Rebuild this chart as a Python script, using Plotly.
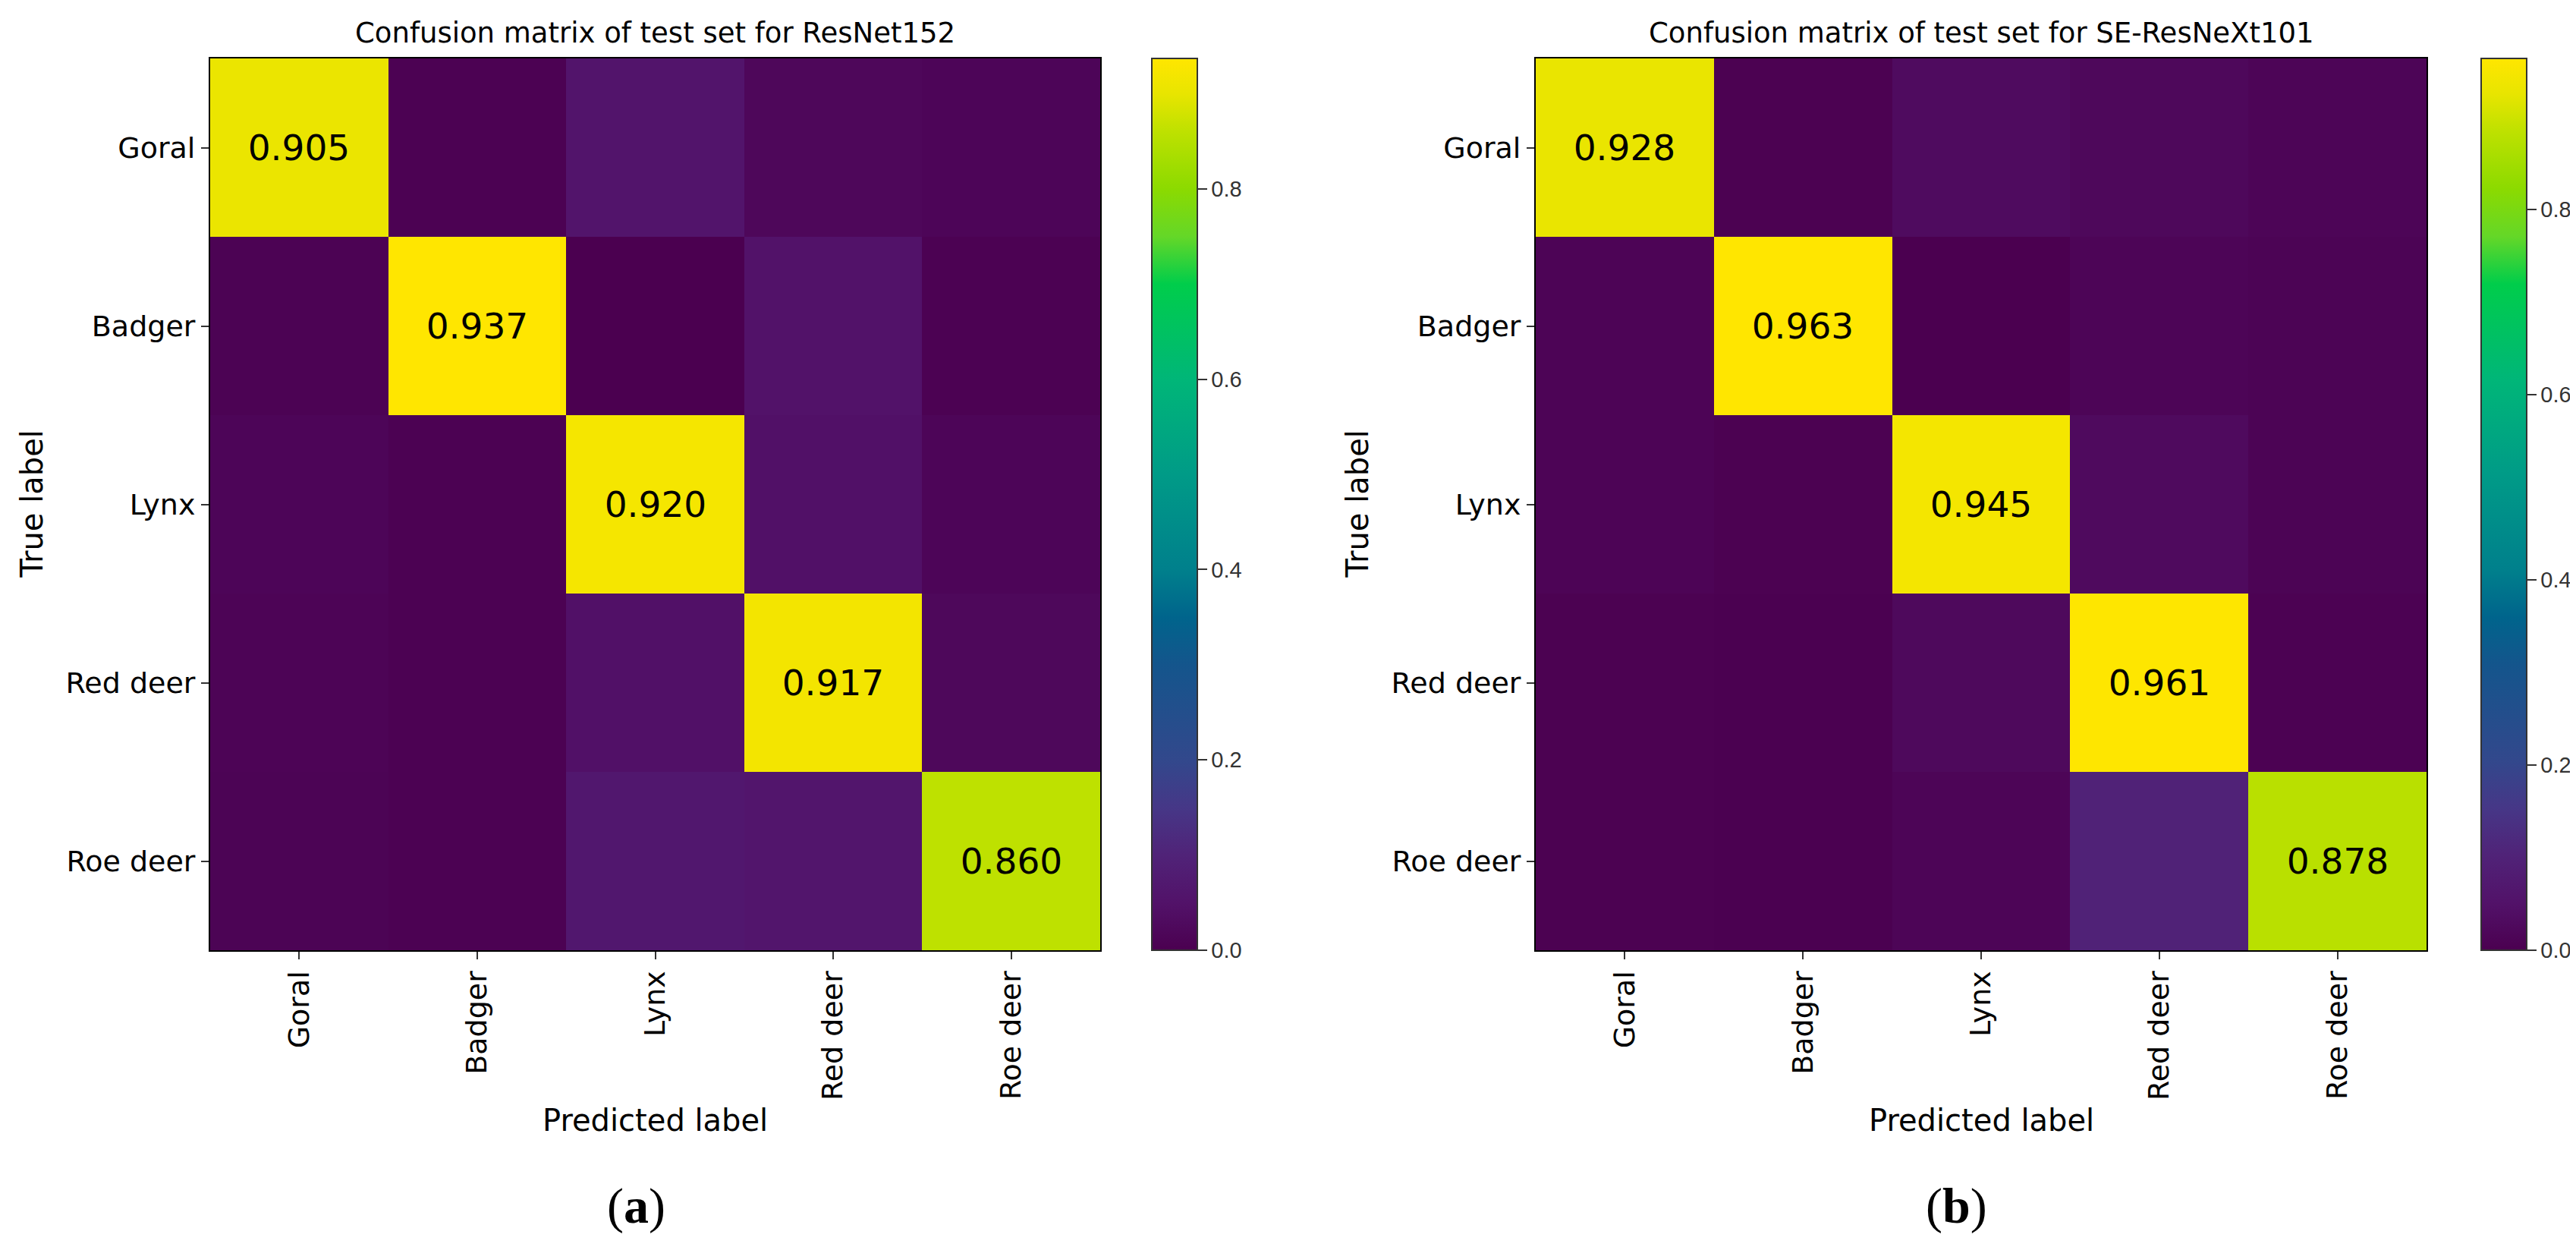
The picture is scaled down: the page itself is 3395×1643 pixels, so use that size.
import plotly.graph_objects as go

classes = ["Goral", "Badger", "Lynx", "Red deer", "Roe deer"]

# rows = true label, columns = predicted label
cm_resnet152 = [
    [0.905, 0.005, 0.055, 0.020, 0.015],
    [0.008, 0.937, 0.000, 0.050, 0.005],
    [0.015, 0.005, 0.920, 0.045, 0.015],
    [0.012, 0.005, 0.045, 0.917, 0.021],
    [0.010, 0.005, 0.065, 0.060, 0.860],
]
cm_seresnext101 = [
    [0.928, 0.005, 0.030, 0.022, 0.015],
    [0.012, 0.963, 0.000, 0.015, 0.010],
    [0.012, 0.005, 0.945, 0.028, 0.010],
    [0.005, 0.003, 0.025, 0.961, 0.006],
    [0.005, 0.003, 0.014, 0.100, 0.878],
]
titles = ["Confusion matrix of test set for ResNet152",
          "Confusion matrix of test set for SE-ResNeXt101"]
panel_tags = ["(<b>a</b>)", "(<b>b</b>)"]
cbar_ticks = [0.0, 0.2, 0.4, 0.6, 0.8]

W, H = 3395, 1643
FONT = "DejaVu Sans"

# viridis as it shows in the picture (a bit more saturated)
scale = [
    [0.000, "rgb(75,0,80)"],
    [0.053, "rgb(82,18,105)"],
    [0.107, "rgb(80,35,120)"],
    [0.160, "rgb(70,55,135)"],
    [0.213, "rgb(50,72,140)"],
    [0.320, "rgb(20,85,140)"],
    [0.373, "rgb(0,100,140)"],
    [0.427, "rgb(0,128,140)"],
    [0.534, "rgb(0,155,135)"],
    [0.640, "rgb(0,182,120)"],
    [0.747, "rgb(0,205,75)"],
    [0.800, "rgb(100,215,40)"],
    [0.854, "rgb(140,218,0)"],
    [0.918, "rgb(190,225,0)"],
    [0.960, "rgb(232,229,0)"],
    [1.000, "rgb(255,230,0)"],
]

# pixel boxes of the two panels
left = [269, 2016]
right = [1442, 3190]
top, bottom = 69, 1244
cbar_left = [1510, 3262]
tag_x = [830, 2570]

y0 = 1 - bottom / H
y1 = 1 - top / H

fig = go.Figure()
for i, cm in enumerate([cm_resnet152, cm_seresnext101]):
    n = len(classes)
    diag_text = [[f"{cm[r][c]:.3f}" if r == c else "" for c in range(n)] for r in range(n)]
    zmax = max(max(row) for row in cm)
    ax = "" if i == 0 else "2"
    fig.add_trace(go.Heatmap(
        z=cm, x=classes, y=classes,
        text=diag_text, texttemplate="%{text}",
        textfont=dict(family=FONT, size=47, color="black"),
        colorscale=scale, zmin=0, zmax=zmax,
        xaxis="x" + ax, yaxis="y" + ax,
        hoverinfo="skip",
        colorbar=dict(
            x=cbar_left[i] / W, xanchor="left", xpad=0, ypad=0,
            y=(y0 + y1) / 2, yanchor="middle", len=y1 - y0, lenmode="fraction",
            thickness=60, thicknessmode="pixels",
            tickvals=cbar_ticks, tickformat=".1f", ticks="outside", ticklen=12,
            tickcolor="#333", tickwidth=2,
            tickfont=dict(family="Liberation Sans", size=29, color="#333"),
            outlinewidth=2, outlinecolor="#333",
        ),
    ))

axis_common = dict(showline=True, linecolor="black", linewidth=2, mirror=True,
                   ticks="outside", ticklen=10, tickwidth=2, tickcolor="#333",
                   showgrid=False, zeroline=False,
                   tickfont=dict(family=FONT, size=38, color="black"))

fig.update_layout(
    width=W, height=H,
    margin=dict(l=0, r=0, t=0, b=0),
    paper_bgcolor="white", plot_bgcolor="white",
    xaxis=dict(domain=[left[0] / W, right[0] / W], anchor="y", tickangle=-90, **axis_common),
    yaxis=dict(domain=[y0, y1], anchor="x", autorange="reversed", **axis_common),
    xaxis2=dict(domain=[left[1] / W, right[1] / W], anchor="y2", tickangle=-90, **axis_common),
    yaxis2=dict(domain=[y0, y1], anchor="x2", autorange="reversed", **axis_common),
)

annotations = []


def note(text, x, y, size, family=FONT, angle=0):
    annotations.append(dict(text=text, x=x, y=y, xref="paper", yref="paper",
                            xanchor="center", yanchor="middle", textangle=angle,
                            showarrow=False, font=dict(family=family, size=size, color="black")))


for i in range(2):
    cx = (left[i] + right[i]) / 2 / W
    note(titles[i], cx, 1 - 36 / H, 37)
    note("Predicted label", cx, 1 - 1468 / H, 40)
    note("True label", (left[i] - 236) / W, (y0 + y1) / 2, 40, angle=-90)
    note(panel_tags[i], tag_x[i] / W, 1 - 1581 / H, 66, family="Liberation Serif")

fig.update_layout(annotations=annotations)

fig.write_html("out.html")
